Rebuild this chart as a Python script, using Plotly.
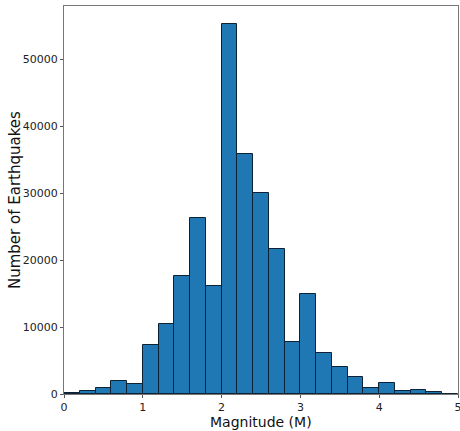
import plotly.graph_objects as go

bin_left = [0.0, 0.2, 0.4, 0.6, 0.8, 1.0, 1.2, 1.4, 1.6, 1.8, 2.0, 2.2, 2.4, 2.6, 2.8,
            3.0, 3.2, 3.4, 3.6, 3.8, 4.0, 4.2, 4.4, 4.6, 4.8]
bin_width = 0.2
counts = [150, 450, 900, 1900, 1500, 7300, 10500, 17700, 26300, 16100, 55200, 35900,
          30000, 21600, 7700, 15000, 6200, 4100, 2600, 900, 1700, 400, 650, 250, 50]
x_ticks = [0, 1, 2, 3, 4, 5]
y_ticks = [0, 10000, 20000, 30000, 40000, 50000]

centers = [b + bin_width / 2 for b in bin_left]

fig = go.Figure(go.Bar(
    x=centers, y=counts, width=[bin_width] * len(centers),
    marker=dict(color="#1f77b4", line=dict(color="#0d2235", width=1)),
))

axis_common = dict(
    showline=True, linecolor="#777777", linewidth=1, mirror=True,
    ticks="outside", ticklen=3, tickcolor="#555555", tickwidth=1,
    showgrid=False, zeroline=False, automargin=False,
    tickfont=dict(family="DejaVu Sans", size=11, color="#222222"),
)

fig.update_layout(
    width=460, height=431,
    margin=dict(l=64, r=2, t=6, b=37),
    paper_bgcolor="white", plot_bgcolor="white",
    bargap=0, showlegend=False,
    xaxis=dict(range=[0, 5], tickvals=x_ticks, ticklabeloverflow="allow",
               **axis_common),
    yaxis=dict(range=[0, 57960], tickvals=y_ticks, tickformat="d",
               **axis_common),
    annotations=[
        dict(text="Magnitude (M)", xref="paper", yref="paper", x=0.5, y=0,
             yshift=-37, xanchor="center", yanchor="bottom", showarrow=False,
             borderpad=0,
             font=dict(family="DejaVu Sans", size=14, color="#111111")),
        dict(text="Number of Earthquakes", xref="paper", yref="paper", x=0, y=0.5,
             xshift=-49, xanchor="center", yanchor="middle", textangle=-90, showarrow=False,
             font=dict(family="DejaVu Sans", size=15, color="#111111")),
    ],
)

fig.write_html("out.html")
